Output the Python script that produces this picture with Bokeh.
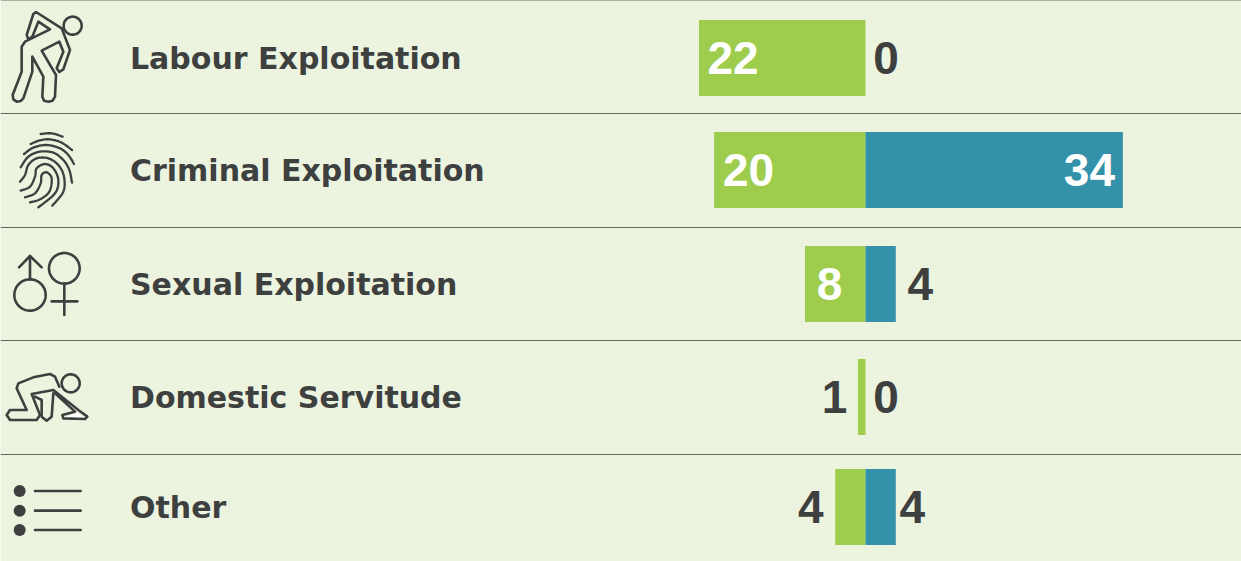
from bokeh.plotting import figure
from bokeh.models import Range1d, ColumnDataSource
from bokeh.core.properties import value
from bokeh.embed import file_html
from bokeh.resources import INLINE
import numpy as np

categories = ["Labour Exploitation", "Criminal Exploitation", "Sexual Exploitation", "Domestic Servitude", "Other"]
green_values = [22, 20, 8, 1, 4]
blue_values = [0, 34, 4, 0, 4]

# layout
W, H = 1241, 561
row_y = [58, 170, 284, 397, 507]
rule_y = [0.5, 113.5, 227, 340, 454]
bar_h = 76
UNIT = 7.57
ZERO = 865.0
BG, GREEN, BLUE, DARK, RULE = "#ecf4df", "#9ecd4d", "#3391a9", "#3e4040", "#626a60"
NUM_FONT = "Liberation Sans"
NUM_SIZE = "46px"

p = figure(width=W, height=H, output_backend="svg", toolbar_location=None,
           x_range=Range1d(-ZERO / UNIT, (W - ZERO) / UNIT), y_range=Range1d(H + 0.5, 0.5),
           min_border=0, outline_line_color=None, background_fill_color=BG,
           border_fill_color=BG, x_axis_location=None, y_axis_location=None)
p.extra_x_ranges = {"px": Range1d(0.5, W + 0.5)}
p.grid.visible = False
p.styles = {"position": "absolute", "left": "0px", "top": "0px"}

for y in rule_y:
    p.hspan(y=y, line_color=RULE, line_width=1.2)

p.hbar(y=row_y, left=[-v for v in green_values], right=0, height=bar_h, fill_color=GREEN, line_color=None)
p.hbar(y=row_y, left=0, right=blue_values, height=bar_h, fill_color=BLUE, line_color=None)

p.text(x=[130] * 5, y=row_y, text=categories, x_range_name="px", text_color=DARK,
       text_font=value("DejaVu Sans"), text_font_style="bold", text_font_size="30px",
       text_align="left", text_baseline="middle")

# value labels: inside the bar when it is wide enough, outside otherwise
g_off = [34, 34.5, 24.5, -23.5, -24.5]
g_col = ["#ffffff", "#ffffff", "#ffffff", DARK, DARK]
b_off = [20.5, -33.5, 24.5, 20.5, 16.5]
b_col = [DARK, "#ffffff", DARK, DARK, DARK]
src = ColumnDataSource(dict(x=[-v for v in green_values], y=row_y, t=[str(v) for v in green_values],
                            dx=g_off, c=g_col))
p.text(x="x", y="y", text="t", x_offset="dx", y_offset=0, text_color="c", text_align="center", source=src,
       text_font=value(NUM_FONT), text_font_style="bold", text_font_size=NUM_SIZE, text_baseline="middle")
src2 = ColumnDataSource(dict(x=blue_values, y=row_y, t=[str(v) for v in blue_values],
                             dx=b_off, c=b_col))
p.text(x="x", y="y", text="t", x_offset="dx", y_offset=0, text_color="c", text_align="center", source=src2,
       text_font=value(NUM_FONT), text_font_style="bold", text_font_size=NUM_SIZE, text_baseline="middle")


# icons (decorative), traced in page pixels
def smooth(pts, n=8):
    pts = np.array(pts, float)
    P = np.vstack([pts[0], pts, pts[-1]])
    out = []
    for i in range(1, len(P) - 2):
        for t in np.linspace(0, 1, n, endpoint=False):
            out.append(0.5 * ((2 * P[i]) + (-P[i-1] + P[i+1]) * t + (2*P[i-1] - 5*P[i] + 4*P[i+1] - P[i+2]) * t**2
                              + (-P[i-1] + 3*P[i] - 3*P[i+1] + P[i+2]) * t**3))
    out.append(pts[-1])
    return np.array(out)


def draw(pts, oy=0, lw=2.6, curve=False):
    a = smooth(pts) if curve else np.array(pts, float)
    p.line(a[:, 0] / 3, a[:, 1] / 3 + oy, x_range_name="px", line_color=DARK, line_width=lw,
           line_join="round", line_cap="round")


def ring(cx, cy, r, oy=0, lw=2.6):
    th = np.linspace(0, 2 * np.pi, 60)
    draw(np.c_[cx + r * np.cos(th), cy + r * np.sin(th)], oy, lw)


ring(218, 77, 27)
draw([(80, 105), (100, 42), (108, 36), (185, 85), (210, 150), (190, 208), (178, 216), (170, 205), (190, 155),
      (178, 125), (125, 152), (168, 225), (165, 290), (158, 302), (145, 305), (132, 302), (127, 290), (130, 230),
      (97, 170), (97, 215), (70, 295), (62, 303), (50, 305), (40, 298), (38, 285), (65, 215), (65, 140), (75, 125),
      (150, 88), (115, 65), (97, 110), (85, 118), (80, 105)])

for arc in [
    [(122, 402), (155, 400), (188, 410)],
    [(92, 432), (120, 421), (150, 418), (185, 428), (216, 450)],
    [(72, 462), (100, 443), (140, 435), (180, 445), (205, 465), (222, 492)],
    [(62, 502), (85, 470), (120, 455), (160, 458), (190, 480), (208, 510), (216, 548)],
    [(60, 545), (75, 525), (85, 495), (110, 475), (145, 475), (175, 495), (192, 530), (190, 575), (157, 617)],
    [(62, 572), (90, 560), (105, 530), (110, 505), (135, 492), (160, 505), (175, 540), (165, 580), (115, 622)],
    [(75, 592), (105, 580), (122, 550), (125, 525), (140, 517), (155, 535), (148, 575), (120, 598), (90, 607)],
]:
    draw(arc, lw=2.3, curve=True)

ring(90, 195, 47, 230)
draw([(90, 148), (90, 78)], 230)
draw([(57, 112), (90, 78), (125, 112)], 230)
ring(193, 115, 46, 230)
draw([(193, 161), (193, 255)], 230)
draw([(155, 214), (232, 214)], 230)

ring(212, 460, 27, 230)
hand = np.array([(190, 564), (230, 547), (258, 566)], float)
p.patch(hand[:, 0] / 3, hand[:, 1] / 3 + 230, x_range_name="px", fill_color="#ffffff", line_color=None)
draw([(178, 470), (165, 440), (150, 432), (100, 442), (55, 460), (50, 475), (80, 540), (30, 540), (20, 555), (30, 570),
      (110, 570), (120, 555), (95, 492), (160, 480), (235, 540), (262, 560), (255, 567), (190, 565), (187, 555),
      (225, 545), (165, 490)], 230)
draw([(105, 500), (125, 510), (125, 560), (140, 572), (155, 560), (160, 490)], 230)

for zy in (783, 842, 900):
    p.circle(x=[59 / 3], y=[zy / 3 + 230], radius=6, x_range_name="px", fill_color=DARK, line_color=None)
    draw([(105, zy), (242, zy)], 230, lw=2.6)

open("out.html", "w").write(file_html(p, INLINE))
